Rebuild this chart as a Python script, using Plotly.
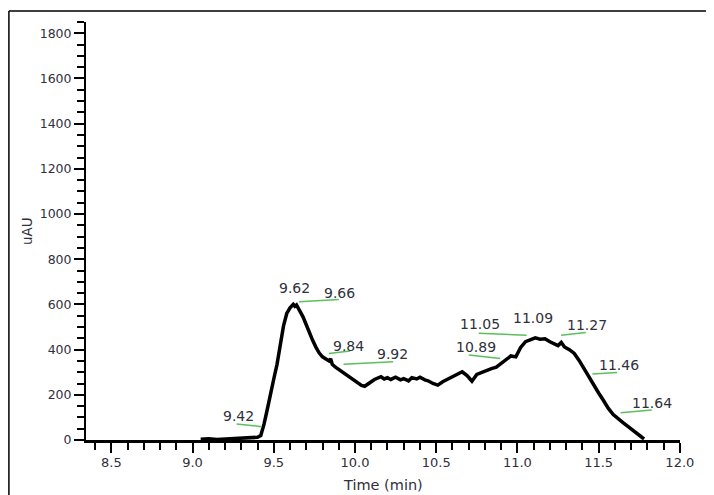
import plotly.graph_objects as go

# --- data -------------------------------------------------------------
time_min = [9.05, 9.10, 9.15, 9.20, 9.25, 9.30, 9.35, 9.40, 9.42, 9.44, 9.46, 9.48,
            9.50, 9.52, 9.54, 9.56, 9.58, 9.60, 9.62, 9.63, 9.64, 9.66, 9.68, 9.70,
            9.72, 9.74, 9.76, 9.78, 9.80, 9.82, 9.84, 9.85, 9.86, 9.88, 9.90, 9.92,
            9.94, 9.96, 9.98, 10.00, 10.02, 10.04, 10.06, 10.08, 10.10, 10.12, 10.14,
            10.16, 10.18, 10.20, 10.22, 10.25, 10.28, 10.30, 10.33, 10.35, 10.38,
            10.40, 10.43, 10.45, 10.48, 10.51, 10.54, 10.57, 10.60, 10.63, 10.66,
            10.69, 10.72, 10.75, 10.78, 10.81, 10.84, 10.87, 10.90, 10.92, 10.94,
            10.96, 10.99, 11.02, 11.05, 11.08, 11.11, 11.14, 11.17, 11.20, 11.23,
            11.25, 11.27, 11.29, 11.32, 11.35, 11.38, 11.41, 11.44, 11.47, 11.50,
            11.53, 11.56, 11.59, 11.62, 11.65, 11.68, 11.71, 11.74, 11.77, 11.78]
signal_uau = [3, 5, 2, 4, 6, 8, 10, 12, 20, 70, 135, 210,
              270, 335, 415, 505, 560, 585, 600, 592, 598, 575, 545, 510,
              470, 440, 410, 385, 368, 360, 350, 360, 335, 322, 312, 302,
              292, 285, 272, 262, 252, 242, 238, 246, 258, 268, 272,
              280, 270, 276, 268, 278, 266, 272, 262, 276, 270,
              278, 266, 262, 250, 243, 258, 268, 280, 292, 302,
              285, 260, 290, 300, 306, 316, 322, 338, 348, 362,
              372, 368, 410, 435, 445, 452, 446, 448, 435, 425,
              418, 432, 412, 400, 383, 352, 315, 278, 248, 208,
              175, 140, 113, 93, 77, 60, 42, 25, 10, 5]

peak_labels = ["9.42", "9.62", "9.66", "9.84", "9.92", "10.89",
               "11.05", "11.09", "11.27", "11.46", "11.64"]
label_x = [9.281, 9.626, 9.906, 9.961, 10.230, 10.742,
           10.772, 11.098, 11.428, 11.624, 11.827]
label_y = [106, 671, 651, 416, 380, 413, 513, 538, 509, 332, 162]

# leader lines (green) for labels
lead_x0 = [9.271, 9.656, 9.839, 9.930, 10.701, 10.762, 11.269, 11.462, 11.635]
lead_y0 = [71, 612, 383, 335, 376, 472, 464, 292, 121]
lead_x1 = [9.427, 9.900, 9.970, 10.235, 10.894, 11.056, 11.421, 11.614, 11.827]
lead_y1 = [59, 622, 394, 346, 361, 464, 476, 299, 133]

FONT = "DejaVu Sans"
TXT = "#30303c"

fig = go.Figure()
fig.add_trace(go.Scatter(x=time_min, y=signal_uau, mode="lines",
                         line=dict(color="black", width=3.5), hoverinfo="skip"))

shapes = []
for x0, y0, x1, y1 in zip(lead_x0, lead_y0, lead_x1, lead_y1):
    shapes.append(dict(type="line", xref="x", yref="y", x0=x0, y0=y0, x1=x1, y1=y1,
                       line=dict(color="#5cbf5c", width=1.5)))
# outer frame: left and top edges only (the picture is cropped on the other sides)
shapes.append(dict(type="line", xref="paper", yref="paper",
                   x0=-0.1298, y0=-0.2, x1=-0.1298, y1=1.0263,
                   line=dict(color="black", width=1.5), layer="below"))
shapes.append(dict(type="line", xref="paper", yref="paper",
                   x0=-0.1298, y0=1.0263, x1=1.2, y1=1.0263,
                   line=dict(color="black", width=1.5), layer="below"))

annotations = [dict(x=x, y=y, text=t, showarrow=False, xref="x", yref="y",
                    font=dict(family=FONT, size=14, color=TXT))
               for t, x, y in zip(peak_labels, label_x, label_y)]
annotations.append(dict(x=-0.116, y=0.5, xref="paper", yref="paper", text="uAU",
                        textangle=-90, showarrow=False,
                        font=dict(family=FONT, size=13.5, color=TXT)))
annotations.append(dict(x=0.5, y=-0.108, xref="paper", yref="paper", text="Time (min)",
                        showarrow=False, yanchor="middle",
                        font=dict(family=FONT, size=14.5, color=TXT)))

fig.update_layout(
    width=698, height=487,
    margin=dict(l=78, r=19, t=14, b=55),
    paper_bgcolor="white", plot_bgcolor="white",
    showlegend=False,
    shapes=shapes, annotations=annotations,
    xaxis=dict(range=[8.344, 12.001], tick0=8.0, dtick=0.5, tickformat=".1f",
               showgrid=False, zeroline=False, showline=True, linecolor="black",
               linewidth=3, ticks="outside", ticklen=10, tickwidth=1.5,
               tickcolor="black", ticklabelstandoff=-2,
               tickfont=dict(family=FONT, size=13, color=TXT),
               minor=dict(dtick=0.1, tick0=8.0, ticks="outside", ticklen=7,
                          tickwidth=1.5, tickcolor="black", showgrid=False)),
    yaxis=dict(range=[0, 1850], tick0=0, dtick=200,
               showgrid=False, zeroline=False, showline=True, linecolor="black",
               linewidth=2, ticks="outside", ticklen=10, tickwidth=1.5,
               tickcolor="black", ticklabelstandoff=0,
               tickfont=dict(family=FONT, size=12.5, color=TXT),
               minor=dict(dtick=50, ticks="outside", ticklen=7, tickwidth=1.5,
                          tickcolor="black", showgrid=False)),
)

fig.write_html("out.html")
